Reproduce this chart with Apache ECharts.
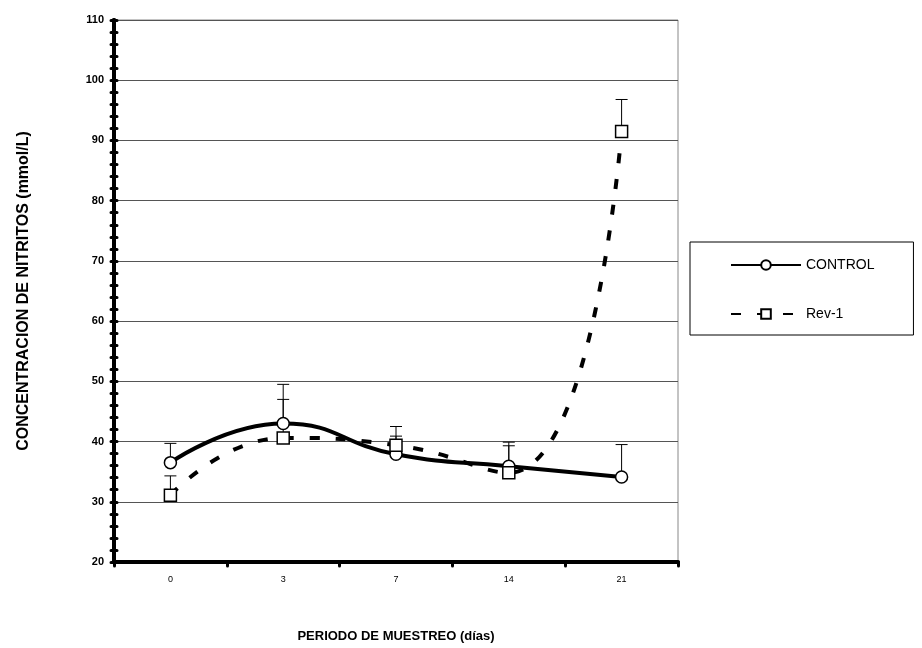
<!DOCTYPE html>
<html>
<head>
<meta charset="utf-8">
<script src="https://cdn.jsdelivr.net/npm/echarts@6/dist/echarts.min.js"></script>
<style>html,body{margin:0;padding:0;background:#fff}#c{width:922px;height:648px}</style>
</head>
<body>
<div id="c"></div>
<script>
const categories = ['0', '3', '7', '14', '21'];
const controlValues = [36.5, 43.0, 37.9, 35.9, 34.1];
const controlErrTop = [39.7, 49.5, 40.9, 39.9, 39.5];
const rev1Values = [31.1, 40.6, 39.4, 34.8, 91.5];
const rev1ErrTop = [34.3, 47.0, 42.5, 39.3, 96.8];
const yTicks = [20, 30, 40, 50, 60, 70, 80, 90, 100, 110];

const FONT = 'Liberation Sans, Arial, sans-serif';
const chart = echarts.init(document.getElementById('c'));

function errData(vals, tops) {
  return vals.map((v, i) => [i, v, tops[i]]);
}
function errRender(params, api) {
  const x = api.value(0);
  const p0 = api.coord([x, api.value(1)]);
  const p1 = api.coord([x, api.value(2)]);
  const half = 6;
  return {
    type: 'group',
    children: [
      { type: 'line', shape: { x1: p0[0], y1: p0[1], x2: p1[0], y2: p1[1] }, style: { stroke: '#000', lineWidth: 1 } },
      { type: 'line', shape: { x1: p1[0] - half, y1: p1[1], x2: p1[0] + half, y2: p1[1] }, style: { stroke: '#000', lineWidth: 1 } }
    ]
  };
}

const yMin = yTicks[0], yMax = yTicks[yTicks.length - 1];
const baseY = {
  type: 'value', min: yMin, max: yMax, interval: 10, position: 'left'
};
const tickStyle = { color: '#000', width: 3, cap: 'round' };

chart.setOption({
  animation: false,
  textStyle: { fontFamily: FONT },
  grid: { left: 114, top: 20, right: 244, bottom: 79, show: true, borderColor: '#888', borderWidth: 1 },
  legend: {
    orient: 'vertical',
    left: 690, top: 242,
    padding: [16, 39, 14, 40],
    itemGap: 35,
    itemWidth: 70, itemHeight: 12,
    borderColor: '#000', borderWidth: 1,
    textStyle: { fontFamily: FONT, fontSize: 14, color: '#000' },
    data: ['CONTROL', 'Rev-1']
  },
  xAxis: {
    type: 'category',
    data: categories,
    boundaryGap: true,
    name: 'PERIODO DE MUESTREO (días)',
    nameLocation: 'middle',
    nameGap: 68,
    nameTextStyle: { fontFamily: FONT, fontWeight: 'bold', fontSize: 13, color: '#000' },
    axisLine: { lineStyle: { color: '#000', width: 4 } },
    axisTick: { show: true, alignWithLabel: false, length: 4, lineStyle: tickStyle },
    axisLabel: { fontFamily: FONT, fontSize: 9, color: '#000', margin: 13 },
    splitLine: { show: false }
  },
  yAxis: [
    Object.assign({}, baseY, {
      name: 'CONCENTRACION DE NITRITOS (mmol/L)',
      nameLocation: 'middle',
      nameGap: 82,
      nameRotate: 90,
      nameTextStyle: { fontFamily: FONT, fontWeight: 'bold', fontSize: 16, color: '#000' },
      axisLine: { show: true, lineStyle: { color: '#000', width: 4 } },
      axisTick: { show: true, length: 3, lineStyle: tickStyle },
      minorTick: { show: true, splitNumber: 5, length: 3, lineStyle: tickStyle },
      axisLabel: { fontFamily: FONT, fontWeight: 'bold', fontSize: 11, color: '#000', margin: 10 },
      splitLine: { show: true, lineStyle: { color: '#555', width: 1 } }
    }),
    Object.assign({}, baseY, {
      axisLine: { show: true, lineStyle: { color: '#000', width: 4 } },
      axisTick: { show: true, inside: true, length: 3, lineStyle: tickStyle },
      minorTick: { show: true, splitNumber: 5, length: 3, lineStyle: tickStyle },
      axisLabel: { show: false },
      splitLine: { show: false }
    })
  ],
  series: [
    {
      type: 'custom', name: 'errC', renderItem: errRender, data: errData(controlValues, controlErrTop),
      encode: { x: 0, y: [1, 2] }, z: 1, silent: true
    },
    {
      type: 'custom', name: 'errR', renderItem: errRender, data: errData(rev1Values, rev1ErrTop),
      encode: { x: 0, y: [1, 2] }, z: 1, silent: true
    },
    {
      name: 'CONTROL', type: 'line', data: controlValues, smooth: 0.5,
      symbol: 'circle', symbolSize: 12, showAllSymbol: true, z: 3,
      lineStyle: { color: '#000', width: 4 },
      itemStyle: { color: '#fff', borderColor: '#000', borderWidth: 1.5 }
    },
    {
      name: 'Rev-1', type: 'line', data: rev1Values, smooth: 0.5,
      symbol: 'rect', symbolSize: 12, showAllSymbol: true, z: 4,
      lineStyle: { color: '#000', width: 4, type: [10, 16] },
      itemStyle: { color: '#fff', borderColor: '#000', borderWidth: 1.5 }
    }
  ]
});
</script>
</body>
</html>
